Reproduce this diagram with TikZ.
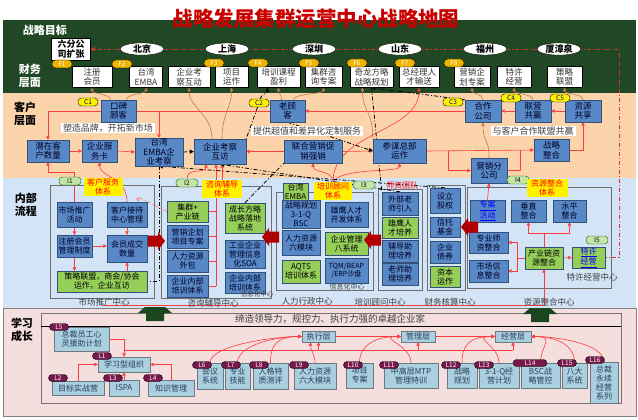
\documentclass[tikz,border=0pt]{standalone}
\usepackage{fontspec}
\setmainfont{Noto Sans CJK SC}
\usetikzlibrary{shapes.geometric,arrows.meta,calc}

\definecolor{finbg}{RGB}{33,72,36}
\definecolor{cusbg}{RGB}{252,212,172}
\definecolor{intbg}{RGB}{210,228,246}
\definecolor{lrnbg}{RGB}{244,222,222}
\definecolor{boxblue}{RGB}{88,136,198}
\definecolor{boxedge}{RGB}{50,80,120}
\definecolor{boxgreen}{RGB}{150,206,90}
\definecolor{lblue}{RGB}{170,208,224}
\definecolor{lgray}{RGB}{110,120,130}
\definecolor{ltext}{RGB}{40,60,90}
\definecolor{titlered}{RGB}{200,0,0}
\definecolor{lnred}{RGB}{255,60,60}
\definecolor{lnbrown}{RGB}{196,120,80}
\definecolor{tagamber}{RGB}{240,180,0}
\definecolor{tagpurple}{RGB}{120,25,75}
\definecolor{taggreen}{RGB}{196,228,168}
\definecolor{blockred}{RGB}{176,0,0}
\definecolor{dkgreen}{RGB}{28,70,30}
\definecolor{grpgray}{RGB}{110,110,110}

\pgfdeclarelayer{bg}
\pgfdeclarelayer{lines}
\pgfsetlayers{bg,lines,main}

\tikzset{
  txt/.style={font=\fontsize{8}{9}\selectfont, align=center, inner sep=0.5pt},
  finbox/.style={txt, font=\fontsize{8.5}{9.5}\selectfont, draw=black, fill=white, text=black!80, minimum height=21pt},
  bbox/.style={txt, draw=boxedge, fill=boxblue, text=black!85!blue},
  cbox/.style={bbox, font=\fontsize{8.5}{9.5}\selectfont},
  gbox/.style={txt, draw=boxedge, fill=boxgreen, text=black},
  ylab/.style={txt, fill=yellow, text=red, minimum width=40pt, minimum height=18pt},
  lbox/.style={txt, font=\fontsize{8}{9}\selectfont, draw=lgray, fill=lblue, text=ltext},
  ftag/.style={draw=black, fill=tagamber, text=white, rounded corners=3.5pt, minimum width=20pt, minimum height=8pt, inner sep=0pt, font=\fontsize{6.5}{6.5}\selectfont},
  ctag/.style={ftag, fill=yellow, text=blue!50!black},
  itag/.style={ftag, fill=taggreen, draw=green!40!black, text=black, minimum width=22pt},
  ltag/.style={ftag, fill=tagpurple, text=white, minimum width=19pt, minimum height=7pt},
  city/.style={ellipse, draw=black, fill=white, minimum width=44pt, minimum height=12pt, inner sep=0pt, font=\fontsize{9}{9}\selectfont\bfseries},
  lyr/.style={font=\fontsize{11}{13}\selectfont\bfseries, align=center},
  ctr/.style={font=\fontsize{8.5}{9}\selectfont, text=black!75},
  note/.style={txt, font=\fontsize{9}{10}\selectfont, fill=white, text=black!75, inner xsep=2pt},
  grp/.style={draw=grpgray, line width=0.7pt},
  rl/.style={draw=lnred, line width=0.6pt},
  ra/.style={rl, -{Triangle[length=3.5pt,width=3.5pt]}},
  bra/.style={draw=lnbrown, line width=0.6pt, -{Triangle[length=3.5pt,width=3.5pt]}},
  dd/.style={draw=black, line width=0.8pt, dash pattern=on 4pt off 2pt on 1pt off 2pt},
  dda/.style={dd, -{Triangle[length=4pt,width=4pt]}},
  rdd/.style={draw=lnred!85!black, line width=0.8pt, dash pattern=on 4pt off 2pt on 1pt off 2pt},
  redblk/.pic={\fill[blockred] (-8,-5.5) -- (2,-5.5) -- (2,-9) -- (9,0) -- (2,9) -- (2,5.5) -- (-8,5.5) -- cycle;},
  upblk/.pic={\fill[dkgreen] (-17,-1) -- (-10,-7) -- (10,-7) -- (17,-1) -- (9,-1) -- (9,7) -- (-9,7) -- (-9,-1) -- cycle;}
}

\begin{document}
\begin{tikzpicture}[x=1pt,y=-1pt]
\useasboundingbox (0,0) rectangle (638,420);

% title and layer names
\node[font=\fontsize{20.5}{22}\selectfont\bfseries, text=titlered] (title) at (316,19) {战略发展集群运营中心战略地图};
\node[lyr, text=white] (t_goal) at (45,30) {战略目标};
\node[lyr, text=white] (t_fin) at (30,76) {财务\\层面};
\node[lyr] (t_cus) at (25,114) {客户\\层面};
\node[lyr] (t_int) at (26,205) {内部\\流程};
\node[lyr] (t_lrn) at (22,330) {学习\\成长};

% strategic goals
\node[finbox, font=\fontsize{9}{10}\selectfont\bfseries, text=black, minimum width=39pt, minimum height=22pt] (g_six) at (71,49) {六分公\\司扩张};
\node[city] (e_bj) at (142,49) {北京};
\node[city] (e_sh) at (227,49) {上海};
\node[city] (e_sz) at (314,49) {深圳};
\node[city] (e_sd) at (400,49) {山东};
\node[city] (e_fz) at (485,49) {福州};
\node[city] (e_xzq) at (559,49) {厦漳泉};

% financial layer
\node[finbox, minimum width=40pt] (f_zc) at (92,77) {注册\\会员};
\node[finbox, minimum width=33pt] (f_tw) at (146,77) {台湾\\EMBA};
\node[finbox, minimum width=42pt] (f_kc) at (189,77) {企业考\\察互动};
\node[finbox, minimum width=33pt] (f_xm) at (231.5,77) {项目\\运作};
\node[finbox, minimum width=43pt] (f_px) at (278.5,77) {培训课程\\盈利};
\node[finbox, minimum width=37pt] (f_jq) at (323.5,77) {集群咨\\询专案};
\node[finbox, minimum width=43pt] (f_ql) at (371.5,77) {奇龙方略\\战略规划};
\node[finbox, minimum width=40pt] (f_zj) at (419,77) {总经理人\\才输送};
\node[finbox, minimum width=36pt] (f_yx) at (472,77) {营销企\\划专案};
\node[finbox, minimum width=34pt] (f_tx) at (514,77) {特许\\经营};
\node[finbox, minimum width=35pt] (f_cl) at (564.5,77) {策略\\联盟};
\node[ftag] (F1) at (62,64) {F1};
\node[ftag] (F2) at (122,64) {F2};
\node[ftag] (F3) at (214,63) {F3};
\node[ftag] (F4) at (258,63) {F4};
\node[ftag] (F5) at (309,63) {F5};
\node[ftag] (F6) at (357,63) {F6};
\node[ftag] (F7) at (405,63) {F7};
\node[ftag] (F8) at (454,63) {F8};

% customer layer
\node[cbox, minimum width=35pt, minimum height=22pt] (c_kb) at (118.5,111) {口碑\\顾客};
\node[cbox, minimum width=35pt, minimum height=22pt] (c_lgk) at (287.5,111) {老顾\\客};
\node[cbox, minimum width=36pt, minimum height=22pt] (c_hz) at (483,111) {合作\\公司};
\node[cbox, minimum width=36pt, minimum height=22pt] (c_ly) at (533,111) {联营\\共赢};
\node[cbox, minimum width=36pt, minimum height=22pt] (c_zy) at (583,111) {资源\\共享};
\node[ctag] (C1) at (88,102) {C1};
\node[ctag] (C2) at (259,103) {C2};
\node[ctag] (C3) at (453,102) {C3};
\node[ctag] (C4) at (511,98) {C4};
\node[ctag] (C5) at (560,98) {C5};
\node[note] (t_pp) at (108,128) {塑造品牌，开拓新市场};
\node[note] (t_cz) at (307,131) {提供超值和差异化定制服务};
\node[note] (t_lm) at (533,131) {与客户合作联盟共赢};
\node[cbox, minimum width=42pt, minimum height=22pt] (c_qz) at (48,151) {潜在客\\户数量};
\node[cbox, minimum width=35pt, minimum height=22pt] (c_fw) at (99.5,151) {企业服\\务卡};
\node[cbox, minimum width=48pt, minimum height=28pt] (c_tw) at (159,152) {台湾\\EMBA企\\业考察};
\node[cbox, minimum width=52pt, minimum height=25pt] (c_kc) at (220,151.5) {企业考察\\互访};
\node[cbox, minimum width=58pt, minimum height=23pt] (c_lh) at (313,151.5) {联合营销促\\销强销};
\node[cbox, minimum width=53pt, minimum height=24pt] (c_cm) at (399.5,151) {参谋总部\\运作};
\node[cbox, minimum width=36pt, minimum height=25pt] (c_yf) at (489,170.5) {营销分\\公司};
\node[cbox, minimum width=35pt, minimum height=22pt] (c_zh) at (551.5,150) {战略\\整合};

% internal process: market
\node[itag] (I1) at (70,181) {I1};
\node[ylab, minimum width=39pt] (y_kf) at (103,187) {客户服务\\体系};
\node[bbox, minimum width=35pt, minimum height=25pt] (i_sc) at (74.5,214.5) {市场推广\\活动};
\node[bbox, minimum width=40pt, minimum height=25pt] (i_kh) at (127,214.5) {客户接待\\中心管理};
\node[bbox, minimum width=35pt, minimum height=22pt] (i_zc) at (74.5,246) {注册会员\\管理制度};
\node[bbox, minimum width=40pt, minimum height=27pt] (i_hy) at (127,248.5) {会员成交\\数量};
\node[gbox, minimum width=90pt, minimum height=21pt] (i_cl) at (102,281.5) {策略联盟，商会/协会\\运作，企业互访};

% internal process: consulting
\node[itag] (I2) at (187,183) {I2};
\node[ylab] (y_zx) at (222,189) {咨询辅导\\体系};
\node[gbox, minimum width=41pt, minimum height=21pt] (i_jq) at (187.5,211.5) {集群+\\产业链};
\node[bbox, minimum width=41pt, minimum height=23pt] (i_yx) at (187.5,236.5) {营销企划\\项目专案};
\node[bbox, minimum width=41pt, minimum height=22pt] (i_rw) at (187.5,261) {人力资源\\外包};
\node[bbox, minimum width=41pt, minimum height=22pt] (i_nx) at (187.5,286) {企业内部\\培训体系};
\node[gbox, minimum width=40pt, minimum height=30pt] (i_cz) at (245,218) {成长方略\\战略落地\\系统};
\node[bbox, minimum width=40pt, minimum height=28pt] (i_soa) at (245,254) {工业企业\\管理信息\\化SOA};
\node[bbox, minimum width=40pt, minimum height=21pt] (i_nx2) at (245,282.5) {企业内部\\培训体系};

% internal process: training
\node[gbox, minimum width=25pt, minimum height=17pt] (i_emba) at (295.5,191.5) {台湾\\EMBA};
\node[ylab, minimum width=38pt] (y_px) at (333,191) {培训顾问\\体系};
\node[itag] (I3) at (364,185) {I3};
\node[bbox, minimum width=38pt, minimum height=28pt] (i_zg) at (301,214) {战略规划\\3-1-Q\\BSC};
\node[bbox, minimum width=43pt, minimum height=25pt] (i_xk) at (346.5,214.5) {雄鹰人才\\开发体系};
\node[bbox, minimum width=38pt, minimum height=25pt] (i_rl) at (301,242.5) {人力资源\\六模块};
\node[gbox, minimum width=43pt, minimum height=23pt] (i_b8) at (346.5,243.5) {企业管理\\八系统};
\node[gbox, minimum width=38pt, minimum height=23pt] (i_aq) at (301,271.5) {AQTS\\培训体系};
\node[bbox, minimum width=43pt, minimum height=25pt, font=\fontsize{7}{8.5}\selectfont] (i_tq) at (346.5,270.5) {TQM/BEAP\\/ERP沙盘};

% teachers
\node[txt, text=red] (t_szt) at (402,185) {师资团队};
\node[bbox, minimum width=36pt, minimum height=23pt] (i_wb) at (400,203.5) {外部老\\师引入};
\node[gbox, minimum width=36pt, minimum height=21pt] (i_xp) at (400,227.5) {雄鹰人\\才培养};
\node[bbox, minimum width=36pt, minimum height=22pt] (i_fd) at (400,251) {辅导助\\理培养};
\node[bbox, minimum width=36pt, minimum height=22pt] (i_lz) at (400,274) {老师助\\理培养};

% finance centre
\node[bbox, minimum width=30pt, minimum height=25pt] (i_gq) at (445,200.5) {设立\\股权};
\node[bbox, minimum width=30pt, minimum height=20pt] (i_xt) at (445,227) {信托\\基金};
\node[bbox, minimum width=30pt, minimum height=22pt] (i_zq) at (445,252) {企业\\债券};
\node[gbox, minimum width=30pt, minimum height=21pt] (i_zb) at (445,276.5) {资本\\运作};

% resources
\node[itag] (I4) at (518,180) {I4};
\node[ylab, minimum width=41pt] (y_zy) at (547,188) {资源整合\\体系};
\node[bbox, minimum width=35pt, minimum height=22pt, text=blue] (i_za) at (487.5,211) {\underline{专案}\\\underline{活动}};
\node[bbox, minimum width=35pt, minimum height=22pt] (i_cz2) at (528.5,211) {垂直\\整合};
\node[bbox, minimum width=33pt, minimum height=22pt] (i_sp) at (569.5,211) {水平\\整合};
\node[bbox, minimum width=39pt, minimum height=21pt] (i_sz) at (488.5,242.5) {专业师\\资整合};
\node[bbox, minimum width=39pt, minimum height=22pt] (i_sx) at (488.5,271) {市场信\\息整合};
\node[gbox, minimum width=38pt, minimum height=22pt] (i_cyl) at (544,258) {产业链资\\源整合};
\node[gbox, minimum width=33pt, minimum height=21pt, text=blue] (i_tx) at (588.5,257.5) {\underline{特许}\\\underline{经营}};
\node[itag] (I5) at (597,240) {I5};
\node[ctr] (t_txzx) at (592,277) {特许经营中心};

% centre names
\node[ctr, font=\fontsize{6.5}{7}\selectfont] (t_xx1) at (257,294.5) {信息化中心};
\node[ctr, font=\fontsize{7}{8}\selectfont] (t_xx2) at (347,287) {信息化中心};
\node[ctr] (t_sczx) at (104,302) {市场推广中心};
\node[ctr] (t_zxzx) at (213,303) {咨询辅导中心};
\node[ctr] (t_rlzx) at (307,301) {人力行政中心};
\node[ctr] (t_pxzx) at (380,302) {培训顾问中心};
\node[ctr] (t_cwzx) at (450,302) {财务核算中心};
\node[ctr] (t_zyzx) at (549,302) {资源整合中心};

% block arrows
\pic at (156,241) {redblk};
\pic[xscale=-1] at (271,237) {redblk};
\pic[xscale=-1] at (373,240) {redblk};
\pic[xscale=-1] at (470,227) {redblk};
\pic at (155,314) {upblk};
\pic at (540,315) {upblk};

% learning and growth
\node[font=\fontsize{9.5}{10}\selectfont, text=black!75] (t_ban) at (330,319) {缔造领导力，规控力、执行力强的卓越企业家};
\node[lbox, minimum width=55pt, minimum height=24pt] (l_zc) at (81.5,339) {总裁员工心\\灵援助计划};
\node[lbox, minimum width=52pt, minimum height=15pt] (l_xx) at (124,364.5) {学习型组织};
\node[lbox, minimum width=52pt, minimum height=14pt] (l_mb) at (78,388) {目标实战营};
\node[lbox, minimum width=30pt, minimum height=16pt] (l_ispa) at (124,388) {ISPA};
\node[lbox, minimum width=46pt, minimum height=16pt] (l_zs) at (171,388) {知识管理};
\node[lbox, minimum width=26pt, minimum height=26pt] (l_hy) at (210,376) {会议\\系统};
\node[lbox, minimum width=25pt, minimum height=26pt] (l_zy) at (237.5,376) {专业\\技能};
\node[lbox, minimum width=35pt, minimum height=26pt] (l_rg) at (270.5,376) {人格特\\质测评};
\node[lbox, minimum width=42pt, minimum height=26pt] (l_rl) at (315,376) {人力资源\\六大模块};
\node[lbox, minimum width=27pt, minimum height=25pt] (l_xm) at (359.5,375.5) {项目\\专案};
\node[lbox, minimum width=54pt, minimum height=25pt] (l_mtp) at (411,375.5) {中高层MTP\\管理特训};
\node[lbox, minimum width=30pt, minimum height=25pt] (l_zl) at (462,375.5) {战略\\规划};
\node[lbox, minimum width=40pt, minimum height=25pt] (l_31q) at (499,375.5) {3-1-Q经\\营计划};
\node[lbox, minimum width=39pt, minimum height=25pt] (l_bsc) at (540.5,375.5) {BSC战\\略管控};
\node[lbox, minimum width=25pt, minimum height=25pt] (l_8d) at (574.5,375.5) {八大\\系统};
\node[lbox, minimum width=28pt, minimum height=41pt] (l_zcy) at (604,382.5) {总裁\\永续\\经营\\系列};
\node[lbox, minimum width=33pt, minimum height=11pt] (l_zx) at (318.5,336.5) {执行层};
\node[lbox, minimum width=34pt, minimum height=11pt] (l_gl) at (418,336.5) {管理层};
\node[lbox, minimum width=36pt, minimum height=11pt] (l_jy) at (513,336.5) {经营层};
\node[ltag] (L5) at (59,327) {L5};
\node[ltag] (L1) at (102,356) {L1};
\node[ltag] (L2) at (58,378) {L2};
\node[ltag] (L3) at (113,378) {L3};
\node[ltag] (L4) at (153,378) {L4};
\node[ltag] (L6) at (202,365) {L6};
\node[ltag] (L7) at (231,365) {L7};
\node[ltag] (L8) at (259,365) {L8};
\node[ltag] (L9) at (299,365) {L9};
\node[ltag] (L10) at (353,365) {L10};
\node[ltag] (L11) at (389,365) {L11};
\node[ltag] (L12) at (451,365) {L12};
\node[ltag] (L13) at (484,365) {L13};
\node[ltag, minimum width=34pt] (L14) at (530,363) {L14};
\node[ltag] (L15) at (567,363) {L15};
\node[ltag] (L16) at (595,360) {L16};

% bands and group frames
\begin{pgfonlayer}{bg}
\fill[finbg] (3,20) rectangle (636,93);
\fill[cusbg] (3,93) rectangle (636,178);
\fill[intbg] (3,178) rectangle (636,308);
\fill[lrnbg] (3,308) rectangle (636,416);
\draw[gray] (3,308) rectangle (636,416);
\draw[grp] (50,185) rectangle (154,298);
\draw[grp] (161,186) rectangle (271,298);
\draw[grp] (276,192) rectangle (373,290);
\draw[grp] (378,189) rectangle (422,290);
\draw[grp] (427,185) rectangle (465,290);
\draw[grp] (467,187) rectangle (611,288);
\draw[draw=black!55, line width=0.8pt] (41,313) rectangle (621,403);
\draw[line width=0.8pt] (41,326) -- (621,326);
\end{pgfonlayer}

\begin{pgfonlayer}{lines}
% goal line
\coordinate (rc) at (619,49);
\draw[rdd, -{Triangle[length=4pt,width=4pt]}] (e_bj.west) -- (g_six.east);
\draw[rdd] (e_bj.east) -- (rc) |- (i_tx.east);

% customer layer
\draw[ra] (c_kb.west) -| (c_qz.north);
\draw[ra] (c_qz.east) -- (c_fw.west);
\draw[ra] (c_fw.east) -- (c_tw.west);
\draw[dda] (c_tw.east) -- (c_kc.west);
\draw[ra] (c_lh.west) -- (c_kc.east);
\draw[rl] (c_lgk.west) -- (c_kb.east);
\draw[ra] (c_tw.north |- c_lgk.west) -- (c_tw.north);
\draw[ra] (c_hz.west) -- (c_lgk.east);
\draw[ra] (c_ly.west) -- (c_hz.east);
\draw[ra] (c_zy.west) -- (c_ly.east);
\draw[ra] (c_zh.east) -| (c_zy.south);
\draw[ra] (c_cm.east) -- (c_zh.west);
\coordinate (cmj) at ($(c_cm.east)+(22,0)$);
\draw[ra] (cmj) |- (c_yf.west);
\draw[rl] (c_yf.east) -| ($(c_zh.west)+(-14,0)$);
\draw[ra] (c_lh.east) -- (c_cm.west);
\draw[bra] (c_yf.north) .. controls +(0,-20) and +(0,20) .. (c_hz.south);

% customer to finance
\draw[bra] ($(c_kb.north)+(-8,0)$) .. controls +(0,-6) and +(0,6) .. (f_zc.south);
\draw[bra] ($(c_kb.north)+(8,0)$) .. controls +(0,-6) and +(0,6) .. (f_tw.south);
\draw[bra] ($(c_kc.north)+(-8,0)$) .. controls +(0,-25) and +(0,20) .. (f_kc.south);
\draw[bra] ($(c_kc.north)+(2,0)$) .. controls +(0,-25) and +(0,20) .. (f_xm.south);
\draw[bra] ($(c_lgk.north)+(-6,0)$) .. controls +(0,-6) and +(0,6) .. (f_px.south);
\draw[bra] ($(c_lgk.north)+(6,0)$) .. controls +(0,-6) and +(0,6) .. (f_jq.south);
\draw[bra] (c_cm.north west) .. controls +(0,-30) and +(0,25) .. ($(f_ql.south)+(-9,0)$);
\draw[bra] (c_hz.north) .. controls +(0,-6) and +(0,6) .. (f_yx.south);
\draw[bra] (c_ly.north) .. controls +(0,-6) and +(0,6) .. (f_tx.south);
\draw[bra] (c_zy.north) .. controls +(0,-6) and +(0,6) .. (f_cl.south);

% internal to customer
\draw[ra] (i_sc.north) -- ++(0,-30) -| (c_qz.south);
\draw[ra] (i_kh.north) .. controls +(0,-25) and +(0,15) .. (c_fw.south);
\coordinate (bus) at (216,0);
\foreach \nn in {i_jq,i_yx,i_rw,i_nx} \draw[rl] (\nn.east) -- (\nn.east -| bus);
\draw[ra] (i_nx.east -| bus) -- (bus |- c_kc.south);
\draw[ra] (y_zx.north) -- (y_zx.north |- c_kc.south);
\draw[ra] (I2.north) .. controls +(0,-12) and +(0,10) .. ($(c_kc.south)+(-14,0)$);
\draw[ra] (y_px.north) .. controls +(0,-12) and +(0,10) .. (c_lh.south);
\draw[ra] (y_px.north) .. controls +(10,-15) and +(0,10) .. (c_cm.south);
\draw[ra] (y_px.north) .. controls +(0,-50) and +(0,45) .. (f_zj.south);
\draw[ra] (i_za.north) -- (c_yf.south);

% dash-dot links
\draw[dda] (i_gq.north) -- (c_tw.south);
\draw[dd] (c_tw.south) -- (c_tw.south |- i_cl.east) -- (i_cl.east);
\draw[dda] (i_wb.north) -- (c_kc.south);
\draw[dd] (i_cz.north) -- (c_lh.south west);
\draw[dda] (c_hz.north west) -- (f_ql.south);
\draw[dd] (f_ql.south) -- (i_wb.north west);
\draw[dda] (c_lgk.south) -- (c_cm.west);
\draw[dd] (C2) -- (c_kc.north east);
\draw[dda] (C2) .. controls +(2,-8) and +(0,5) .. ($(f_px.south)+(-11,0)$);
\draw[rdd, draw=lnred!60, -{Triangle[length=3.5pt,width=3.5pt]}] (i_jq.west) -- ($(i_kh.north)+(11,-5)$) -- ($(i_kh.north)+(11,0)$);

% inside internal groups
\draw[ra] (i_sc.south) -- (i_zc.north);
\draw[ra] (i_kh.south) -- (i_hy.north);
\draw[ra] (i_zc.east) -- (i_zc.east -| i_hy.west);
\draw[ra] (i_zc.south) -- (i_zc.south |- i_cl.north);
\draw[ra] (i_cl.north -| i_hy.south) -- (i_hy.south);
\coordinate (brz) at (i_cyl.north |- 0,233);
\draw[rl] (i_cyl.north) -- (brz);
\draw[ra] (brz) -| (i_cz2.south);
\draw[ra] (brz) -| (i_sp.south);
\coordinate (brl) at ($(i_cyl.west)+(-8,0)$);
\draw[rl] (i_cyl.west) -- (brl);
\draw[ra] (brl) |- (i_sz.east);
\draw[ra] (brl) |- (i_sx.east);
\draw[ra] (i_cyl.east) -- (i_tx.west);
\coordinate (rl0) at (102,305);
\draw[ra] (rl0) -| (i_cyl.south);

% learning links
\draw[ra] (l_zc.east) -| (l_xx.north);
\coordinate (lb1) at (l_xx.north |- 0,350);
\coordinate (lb2) at (l_jy.south |- 0,350);
\draw[rl] (lb1) -- (lb2);
\foreach \nn in {l_zx,l_gl,l_jy} \draw[ra] (\nn.south |- lb1) -- (\nn.south);
\draw[ra] (l_mb.north) |- (l_xx.west);
\draw[ra] (l_ispa.north) -- (l_xx.south);
\draw[ra] (l_zs.north) |- (l_xx.east);
\foreach \nn in {l_hy,l_zy,l_rg} \draw[ra] (\nn.north) .. controls +(0,-18) and +(-25,0) .. (l_zx.west);
\draw[ra] (l_rl.north) .. controls +(0,-8) and +(0,8) .. ($(l_zx.south)+(-8,0)$);
\foreach \nn in {l_xm,l_mtp} \draw[ra] (\nn.north) .. controls +(0,-18) and +(-25,0) .. (l_gl.west);
\foreach \nn in {l_zl,l_31q} \draw[ra] (\nn.north) .. controls +(0,-18) and +(-25,0) .. (l_jy.west);
\foreach \nn in {l_bsc,l_8d,l_zcy} \draw[ra] (\nn.north) .. controls +(0,-18) and +(25,0) .. (l_jy.east);
\draw[ra] (l_zx.east) -- (l_gl.west);
\draw[ra] (l_gl.east) -- (l_jy.west);
\end{pgfonlayer}
\end{tikzpicture}
\end{document}
